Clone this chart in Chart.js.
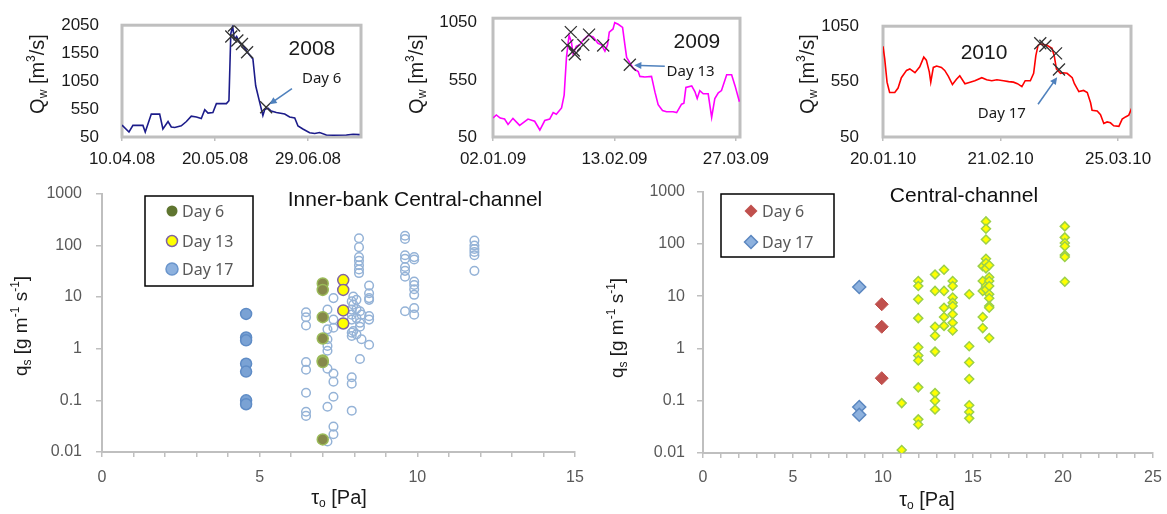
<!DOCTYPE html>
<html>
<head>
<meta charset="utf-8">
<script src="https://cdn.jsdelivr.net/npm/chart.js@4.4.1/dist/chart.umd.min.js"></script>
<style>
  html, body { margin: 0; padding: 0; background: #fff; }
  #wrap { position: relative; width: 1167px; height: 514px; overflow: hidden; }
  canvas { position: absolute; }
</style>
</head>
<body>
<div id="wrap">
  <canvas id="c2008" style="left:0;top:0" width="380" height="172"></canvas>
  <canvas id="c2009" style="left:380px;top:0" width="400" height="172"></canvas>
  <canvas id="c2010" style="left:770px;top:0" width="397" height="172"></canvas>
  <canvas id="cInner" style="left:0;top:170px" width="600" height="344"></canvas>
  <canvas id="cCentral" style="left:590px;top:170px" width="585" height="344"></canvas>
</div>
<script>
// --- discharge series (days since first tick date, Qw in m3/s) ---
const days2008 = [0, 3, 4.7, 9, 10, 12.6, 16.2, 17.6, 19.8, 21.2, 22.7, 25.5, 27.7, 29.8, 32, 34.1, 35.6, 37, 39.1, 40.6, 44.9, 46, 46.8, 47.6, 48.3, 49.3, 50.6, 52, 54.2, 56.3, 57.5, 59.2, 60.6, 61.4, 62.8, 64.2, 66.4, 70, 72.1, 74.3, 75.7, 77.8, 80.7, 82.9, 85, 87.9, 90.8, 96.5, 99.4, 102.2];
const q2008 = [263, 140, 258, 258, 140, 460, 460, 194, 327, 230, 220, 250, 327, 423, 407, 380, 540, 477, 487, 647, 647, 700, 1900, 2030, 1800, 1850, 1740, 1687, 1554, 1447, 967, 674, 434, 540, 567, 514, 487, 460, 407, 391, 247, 194, 125, 114, 130, 87, 82, 87, 98, 92];
const markDays2008 = [48.2, 47.0, 49.6, 51.6, 53.8, 62.0];
const markQ2008 = [2045, 1847, 1777, 1714, 1565, 583];
const ticks2008 = [0, 40, 80];
const tickLabels2008 = ['10.04.08', '20.05.08', '29.06.08'];
const yTicks2008 = [50, 550, 1050, 1550, 2050];

const days2009 = [0, 1.15, 2.5, 4, 5.2, 6.9, 9.2, 12.1, 14.4, 16.2, 17.9, 19.6, 20.8, 21.9, 23.7, 24.6, 25.4, 26.3, 27.1, 27.7, 28.8, 30, 31.2, 32.9, 34.6, 36.3, 37.5, 38.7, 39.6, 40.2, 41.5, 42.1, 43.3, 44.8, 45.6, 46.2, 48.5, 50.2, 50.8, 52.5, 54.8, 56, 57.1, 58.6, 60, 62.3, 63.5, 65.2, 66, 66.7, 68.7, 69.8, 70.6, 71.5, 72.7, 74.4, 75.6, 76.7, 77.9, 79, 80.8, 82.5, 83.7, 85.2];
const q2009 = [216, 243, 216, 207, 160, 213, 152, 207, 188, 111, 194, 207, 263, 249, 304, 415, 746, 939, 884, 774, 843, 856, 898, 939, 925, 870, 856, 801, 856, 967, 995, 1050, 1036, 1008, 856, 746, 649, 622, 580, 575, 580, 442, 332, 282, 271, 271, 263, 337, 346, 484, 497, 448, 387, 456, 428, 428, 221, 387, 437, 456, 594, 594, 497, 359];
const markDays2009 = [25.7, 26.9, 28.3, 27.9, 31.2, 33.2, 38.1, 47.3];
const markQ2009 = [851, 967, 774, 807, 856, 945, 851, 682];
const ticks2009 = [0, 42, 84];
const tickLabels2009 = ['02.01.09', '13.02.09', '27.03.09'];
const yTicks2009 = [50, 550, 1050];

const days2010 = [0, 0.46, 1.1, 1.8, 3.2, 4.1, 5, 6.4, 7.3, 8.7, 10, 11.1, 11.8, 12.6, 13, 13.7, 14.6, 15.9, 16.8, 17.8, 18.9, 20, 20.9, 22.3, 23.7, 25, 26.9, 28.2, 29.6, 31, 32.8, 34.2, 35.5, 36.6, 37.8, 38.7, 40.1, 41, 41.6, 42.2, 42.8, 44.6, 46, 46.6, 47.2, 48.3, 49, 50.1, 51.5, 52.1, 53.3, 54.6, 55.6, 56.5, 56.9, 58.3, 59.2, 60.1, 61, 61.9, 62.8, 64.2, 65.1, 66, 66.9, 67.7];
const q2010 = [869, 758, 545, 452, 452, 492, 585, 651, 664, 630, 683, 771, 744, 638, 545, 678, 691, 678, 651, 598, 523, 571, 603, 531, 545, 558, 585, 566, 558, 566, 558, 550, 545, 531, 505, 558, 558, 625, 784, 877, 890, 877, 851, 784, 664, 625, 630, 625, 585, 531, 460, 470, 452, 359, 292, 284, 252, 172, 186, 178, 151, 146, 212, 231, 247, 311];
const markDays2010 = [42.8, 44.2, 47.1, 47.9];
const markQ2010 = [896, 874, 805, 659];
const ticks2010 = [0, 32, 64];
const tickLabels2010 = ['20.01.10', '21.02.10', '25.03.10'];
const yTicks2010 = [50, 550, 1050];

// --- sediment transport: bed shear stress tau (Pa) vs qs (g m-1 s-1) ---
const qsTicks = [0.01, 0.1, 1, 10, 100, 1000];
const qsTickLabels = ['0.01', '0.1', '1', '10', '100', '1000'];

// Inner-bank central-channel
const ibDay6Tau = 7.0;
const ibDay6Qs = [18.3, 13.7, 4.06, 1.57, 0.59, 0.55, 0.0175];
const ibDay13Tau = 7.65;
const ibDay13Qs = [21.2, 13.7, 5.5, 3.07];
const ibDay17Tau = 4.57;
const ibDay17Qs = [4.7, 1.64, 1.45, 0.51, 0.36, 0.10, 0.084];
const ibOtherTau = [6.47, 7.15, 7.34, 7.92, 8.15, 7.97, 8.07, 8.18, 8.23, 8.47, 9.61, 9.9, 11.81];
const ibOtherQs = [
  [5.06, 4.06, 2.8, 0.55, 0.39, 0.14, 0.06, 0.05],
  [5.7, 2.36, 1.52, 1.13, 0.91, 0.41, 0.075, 0.016],
  [9.5, 3.65, 2.54, 0.33, 0.23, 0.117, 0.031, 0.022],
  [8.2, 5.7, 4.55, 3.65, 2.04, 1.76, 0.28, 0.21, 0.063],
  [137, 92, 59, 50, 41, 34, 29],
  [10.2, 7.1, 2.19],
  [8.8, 5.85, 3.9, 1.89],
  [5.3, 3.16, 2.65, 0.63],
  [4.55, 1.52],
  [16.6, 11.8, 9.5, 8.8, 4.25, 3.65, 1.19],
  [153, 132, 64, 55, 38, 32, 24.6, 5.3],
  [59, 53, 19.8, 17, 14.1, 11, 6.1, 4.55],
  [123, 99, 85, 74, 64, 32]
];

// Central-channel
const ccDay6Tau = 9.93;
const ccDay6Qs = [7.0, 2.6, 0.27];
const ccDay17Tau = 8.68;
const ccDay17Qs = [15, 0.076, 0.054];
const ccOtherTau = [11.04, 11.96, 12.89, 13.39, 13.87, 14.79, 15.54, 15.72, 15.9, 20.1];
const ccOtherQs = [
  [0.09, 0.0114],
  [19.5, 15.6, 8.7, 3.8, 1.05, 0.73, 0.59, 0.18, 0.044, 0.035],
  [26, 12.6, 2.6, 1.75, 0.87, 0.14, 0.10, 0.068],
  [32, 12.6, 6.0, 4.0, 2.7],
  [19.5, 15.6, 9.4, 7.5, 6.5, 4.5, 3.1, 2.2],
  [10.9, 1.1, 0.54, 0.26, 0.082, 0.061, 0.046],
  [37.5, 19.5, 12.6, 4.0, 2.45],
  [269, 195, 121, 52, 43, 34, 15.6, 13.5],
  [39, 23, 19.5, 15.6, 10.9, 9.1, 6.5, 6.0, 1.58],
  [216, 133, 104, 90, 61, 56, 18.9]
];

const FONT = 'Liberation Sans, Arial, sans-serif';
const LEG_FONT = 'Noto Sans, Liberation Sans, sans-serif';
Chart.defaults.font.family = FONT;

function pts(xs, ys) { return xs.map((x, i) => ({ x: x, y: ys[i] })); }
function col(tau, qs) { return qs.map(q => ({ x: tau, y: q })); }
function cols(taus, qss) { return taus.flatMap((t, i) => col(t, qss[i])); }

// text with sub/superscripts, centred on (x, y)
function richText(ctx, parts, x, y, size, rotate, color) {
  const fontOf = p => ((p.sub || p.sup) ? Math.round(size * 0.62) : size) + 'px ' + FONT;
  let w = 0;
  parts.forEach(p => { ctx.font = fontOf(p); w += ctx.measureText(p.t).width; });
  ctx.save();
  ctx.translate(x, y);
  if (rotate) ctx.rotate(-Math.PI / 2);
  ctx.fillStyle = color;
  ctx.textBaseline = 'middle';
  ctx.textAlign = 'left';
  let cx = -w / 2;
  parts.forEach(p => {
    ctx.font = fontOf(p);
    const dy = p.sub ? size * 0.3 : p.sup ? -size * 0.32 : 0;
    ctx.fillText(p.t, cx, dy);
    cx += ctx.measureText(p.t).width;
  });
  ctx.restore();
}

function marker(ctx, m, x, y) {
  ctx.save();
  ctx.beginPath();
  if (m.style === 'rectRot') {
    ctx.moveTo(x - m.r, y); ctx.lineTo(x, y - m.r); ctx.lineTo(x + m.r, y); ctx.lineTo(x, y + m.r); ctx.closePath();
  } else {
    ctx.arc(x, y, m.r, 0, Math.PI * 2);
  }
  ctx.fillStyle = m.bg;
  ctx.fill();
  if (m.border) { ctx.strokeStyle = m.border; ctx.lineWidth = m.bw || 1.5; ctx.stroke(); }
  ctx.restore();
}

const QW_TITLE = [{ t: 'Q' }, { t: 'w', sub: true }, { t: ' [m' }, { t: '3', sup: true }, { t: '/s]' }];
const QS_TITLE = [{ t: 'q' }, { t: 's', sub: true }, { t: ' [g m' }, { t: '-1', sup: true }, { t: ' s' }, { t: '-1', sup: true }, { t: ']' }];
const TAU_TITLE = [{ t: 'τ' }, { t: 'o', sub: true }, { t: ' [Pa]' }];

// extra drawing per canvas: frame, titles, labels, arrows, legend
const decorById = {
  c2008: {
    frame: true,
    yTitle: { parts: QW_TITLE, x: 38, y: 74, size: 20 },
    texts: [
      { x: 81.7, y: 1618, text: '2008', font: '21px ' + FONT, align: 'center' },
      { x: 77.4, y: 1090, text: 'Day 6', font: '15px ' + LEG_FONT, align: 'left' }
    ],
    arrows: [{ x1: 73.1, y1: 914, x2: 63.4, y2: 636 }]
  },
  c2009: {
    frame: true,
    yTitle: { parts: QW_TITLE, x: 37, y: 74, size: 20 },
    texts: [
      { x: 70.5, y: 882, text: '2009', font: '21px ' + FONT, align: 'center' },
      { x: 60.0, y: 622, text: 'Day 13', font: '15px ' + LEG_FONT, align: 'left' }
    ],
    arrows: [{ x1: 59.4, y1: 669, x2: 48.8, y2: 677 }]
  },
  c2010: {
    frame: true,
    yTitle: { parts: QW_TITLE, x: 38, y: 74, size: 20 },
    texts: [
      { x: 27.5, y: 802, text: '2010', font: '21px ' + FONT, align: 'center' },
      { x: 25.8, y: 258, text: 'Day 17', font: '15px ' + LEG_FONT, align: 'left' }
    ],
    arrows: [{ x1: 42.2, y1: 346, x2: 47.4, y2: 590 }]
  },
  cInner: {
    yTitle: { parts: QS_TITLE, x: 22, y: 156, size: 19 },
    xTitle: { parts: TAU_TITLE, x: 339, y: 328, size: 20 },
    title: { text: 'Inner-bank Central-channel', x: 415, y: 30 },
    legend: {
      x: 145, y: 26, w: 108, h: 90, mx: 172, tx: 182,
      items: [
        { y: 41, text: 'Day 6', style: 'circle', r: 5.5, bg: '#5f7530' },
        { y: 71, text: 'Day 13', style: 'circle', r: 5.5, bg: '#ffff00', border: '#8064a2' },
        { y: 99, text: 'Day 17', style: 'circle', r: 6, bg: '#8db1de', border: '#6a95cc' }
      ]
    }
  },
  cCentral: {
    yTitle: { parts: QS_TITLE, x: 28, y: 158, size: 19 },
    xTitle: { parts: TAU_TITLE, x: 337, y: 330, size: 20 },
    title: { text: 'Central-channel', x: 374, y: 26 },
    legend: {
      x: 131, y: 24, w: 113, h: 63, mx: 161, tx: 172,
      items: [
        { y: 41, text: 'Day 6', style: 'rectRot', r: 6.5, bg: '#c0504d' },
        { y: 72, text: 'Day 17', style: 'rectRot', r: 6.5, bg: '#8db1de', border: '#5b87c0' }
      ]
    }
  }
};

const decor = {
  id: 'decor',
  beforeDatasetsDraw(chart) {
    const d = decorById[chart.canvas.id];
    if (!d || !d.frame) return;
    const a = chart.chartArea, ctx = chart.ctx;
    ctx.save();
    ctx.strokeStyle = '#bfbfbf';
    ctx.lineWidth = 3;
    ctx.strokeRect(a.left, a.top, a.right - a.left, a.bottom - a.top);
    ctx.restore();
  },
  afterDraw(chart) {
    const d = decorById[chart.canvas.id];
    if (!d) return;
    const ctx = chart.ctx, sx = chart.scales.x, sy = chart.scales.y;
    if (d.yTitle) richText(ctx, d.yTitle.parts, d.yTitle.x, d.yTitle.y, d.yTitle.size, true, '#1a1a1a');
    if (d.xTitle) richText(ctx, d.xTitle.parts, d.xTitle.x, d.xTitle.y, d.xTitle.size, false, '#1a1a1a');
    if (d.title) {
      ctx.save();
      ctx.font = '21px ' + FONT;
      ctx.fillStyle = '#111';
      ctx.textAlign = 'center';
      ctx.textBaseline = 'middle';
      ctx.fillText(d.title.text, d.title.x, d.title.y);
      ctx.restore();
    }
    (d.texts || []).forEach(t => {
      ctx.save();
      ctx.font = t.font;
      ctx.fillStyle = '#1a1a1a';
      ctx.textAlign = t.align;
      ctx.textBaseline = 'middle';
      ctx.fillText(t.text, sx.getPixelForValue(t.x), sy.getPixelForValue(t.y));
      ctx.restore();
    });
    (d.arrows || []).forEach(a => {
      const x1 = sx.getPixelForValue(a.x1), y1 = sy.getPixelForValue(a.y1);
      const x2 = sx.getPixelForValue(a.x2), y2 = sy.getPixelForValue(a.y2);
      const ang = Math.atan2(y2 - y1, x2 - x1), h = 8;
      ctx.save();
      ctx.strokeStyle = '#4f81bd';
      ctx.fillStyle = '#4f81bd';
      ctx.lineWidth = 1.6;
      ctx.beginPath();
      ctx.moveTo(x1, y1);
      ctx.lineTo(x2 - Math.cos(ang) * h * 0.8, y2 - Math.sin(ang) * h * 0.8);
      ctx.stroke();
      ctx.beginPath();
      ctx.moveTo(x2, y2);
      ctx.lineTo(x2 - h * Math.cos(ang - 0.45), y2 - h * Math.sin(ang - 0.45));
      ctx.lineTo(x2 - h * Math.cos(ang + 0.45), y2 - h * Math.sin(ang + 0.45));
      ctx.closePath();
      ctx.fill();
      ctx.restore();
    });
    if (d.legend) {
      const L = d.legend;
      ctx.save();
      ctx.strokeStyle = '#000';
      ctx.lineWidth = 1.5;
      ctx.strokeRect(L.x, L.y, L.w, L.h);
      L.items.forEach(it => {
        marker(ctx, it, L.mx, it.y);
        ctx.fillStyle = '#595959';
        ctx.font = '16px ' + LEG_FONT;
        ctx.textAlign = 'left';
        ctx.textBaseline = 'middle';
        ctx.fillText(it.text, L.tx, it.y + 1);
      });
      ctx.restore();
    }
  }
};

function flowChart(id, days, q, markDays, markQ, color, cfg) {
  return new Chart(document.getElementById(id), {
    type: 'line',
    data: {
      datasets: [
        {
          data: pts(markDays, markQ), showLine: false,
          pointStyle: 'crossRot', pointRadius: 8.5, pointBorderWidth: 1.3,
          pointBorderColor: '#333', borderColor: '#333'
        },
        { data: pts(days, q), borderColor: color, borderWidth: 1.6, pointRadius: 0, tension: 0 }
      ]
    },
    options: {
      responsive: false, animation: false, devicePixelRatio: 1,
      layout: { padding: { left: 0, right: cfg.padRight, top: 12, bottom: 0 } },
      plugins: { legend: { display: false }, tooltip: { enabled: false } },
      scales: {
        x: {
          type: 'linear', min: 0, max: cfg.xMax,
          afterBuildTicks: s => { s.ticks = cfg.xTicks.map(v => ({ value: v })); },
          afterFit: s => { s.height = 35; },
          ticks: { callback: (v, i) => cfg.xLabels[i], color: '#1a1a1a', font: { size: 17 }, padding: 8, maxRotation: 0, autoSkip: false },
          grid: { display: true, drawOnChartArea: false, drawTicks: true, tickLength: 4, color: '#bfbfbf', lineWidth: 1.5 },
          border: { display: false }
        },
        y: {
          min: 50, max: cfg.yMax,
          afterBuildTicks: s => { s.ticks = cfg.yTicks.map(v => ({ value: v })); },
          afterFit: s => { s.width = cfg.yWidth; },
          ticks: { callback: v => String(v), color: '#1a1a1a', font: { size: 17 }, padding: cfg.yPad },
          grid: { display: false },
          border: { display: false }
        }
      }
    },
    plugins: [decor]
  });
}

flowChart('c2008', days2008, q2008, markDays2008, markQ2008, '#1c1c8a',
  { xMax: 102.8, yMax: 2050, xTicks: ticks2008, xLabels: tickLabels2008, yTicks: yTicks2008, padRight: 19, yWidth: 122, yPad: 15 });
flowChart('c2009', days2009, q2009, markDays2009, markQ2009, '#ff00ff',
  { xMax: 85.4, yMax: 1089, xTicks: ticks2009, xLabels: tickLabels2009, yTicks: yTicks2009, padRight: 40, yWidth: 113, yPad: 8 });
flowChart('c2010', days2010, q2010, markDays2010, markQ2010, '#ff0000',
  { xMax: 67.5, yMax: 1050, xTicks: ticks2010, xLabels: tickLabels2010, yTicks: yTicks2010, padRight: 36, yWidth: 113, yPad: 16 });

function sedChart(id, datasets, cfg) {
  return new Chart(document.getElementById(id), {
    type: 'scatter',
    data: { datasets: datasets },
    options: {
      responsive: false, animation: false, devicePixelRatio: 1,
      layout: { padding: { left: 0, right: cfg.padRight, top: cfg.padTop, bottom: 0 } },
      plugins: { legend: { display: false }, tooltip: { enabled: false } },
      scales: {
        x: {
          type: 'linear', min: 0, max: cfg.xMax,
          afterFit: s => { s.height = cfg.xHeight; },
          ticks: { stepSize: 1, autoSkip: false, maxRotation: 0, callback: v => (v % 5 === 0 ? String(v) : ''), color: '#595959', font: { size: 16 }, padding: cfg.xPad },
          grid: { display: true, drawOnChartArea: false, drawTicks: true, tickLength: 5, color: '#bfbfbf', lineWidth: 1.5 },
          border: { display: true, color: '#bfbfbf', width: 2 }
        },
        y: {
          type: 'logarithmic', min: 0.01, max: 1000,
          afterBuildTicks: s => { s.ticks = qsTicks.map(v => ({ value: v })); },
          afterFit: s => { s.width = cfg.yWidth; },
          ticks: { callback: (v, i) => qsTickLabels[i], color: '#595959', font: { size: 16 }, padding: cfg.yPad },
          grid: { display: true, drawOnChartArea: false, drawTicks: true, tickLength: 6, color: '#bfbfbf', lineWidth: 1.5 },
          border: { display: true, color: '#bfbfbf', width: 2 }
        }
      }
    },
    plugins: [decor]
  });
}

sedChart('cInner', [
  { label: 'Day 6', data: col(ibDay6Tau, ibDay6Qs), pointStyle: 'circle', pointRadius: 5.5, pointBackgroundColor: '#86894a', pointBorderColor: '#9bbb59', pointBorderWidth: 1.5 },
  { label: 'Day 13', data: col(ibDay13Tau, ibDay13Qs), pointStyle: 'circle', pointRadius: 5.5, pointBackgroundColor: '#ffff00', pointBorderColor: '#8064a2', pointBorderWidth: 1.5 },
  { label: 'Day 17', data: col(ibDay17Tau, ibDay17Qs), pointStyle: 'circle', pointRadius: 5.5, pointBackgroundColor: '#7aa2d4', pointBorderColor: '#5f8cc6', pointBorderWidth: 1.5 },
  { label: 'other', data: cols(ibOtherTau, ibOtherQs), pointStyle: 'circle', pointRadius: 4.3, pointBackgroundColor: 'rgba(255,255,255,0)', pointBorderColor: '#95b3d7', pointBorderWidth: 1.5 }
], { xMax: 15, padRight: 25, padTop: 19, xHeight: 62, yWidth: 102, yPad: 14, xPad: 11 });

sedChart('cCentral', [
  { label: 'Day 6', data: col(ccDay6Tau, ccDay6Qs), pointStyle: 'rectRot', pointRadius: 6.5, pointBackgroundColor: '#c0504d', pointBorderColor: '#c0504d', pointBorderWidth: 1 },
  { label: 'Day 17', data: col(ccDay17Tau, ccDay17Qs), pointStyle: 'rectRot', pointRadius: 6.5, pointBackgroundColor: '#8db1de', pointBorderColor: '#5b87c0', pointBorderWidth: 1.5 },
  { label: 'other', data: cols(ccOtherTau, ccOtherQs), pointStyle: 'rectRot', pointRadius: 4.5, pointBackgroundColor: '#ffff00', pointBorderColor: '#9bd04a', pointBorderWidth: 1.5 }
], { xMax: 25, padRight: 22, padTop: 20, xHeight: 61, yWidth: 113, yPad: 12, xPad: 10 });
</script>
</body>
</html>
